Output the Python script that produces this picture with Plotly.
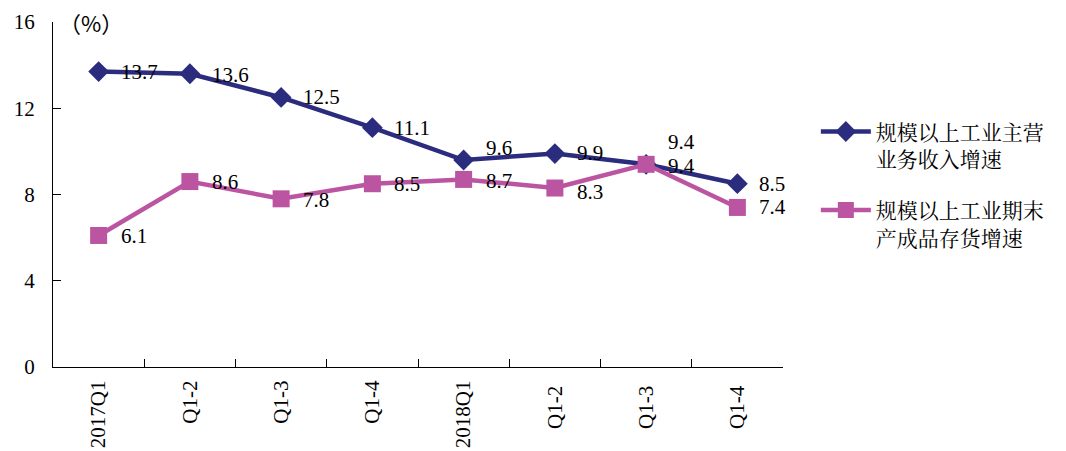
import plotly.graph_objects as go

categories = ["2017Q1", "Q1-2", "Q1-3", "Q1-4", "2018Q1", "Q1-2 ", "Q1-3 ", "Q1-4 "]
revenue_growth = [13.7, 13.6, 12.5, 11.1, 9.6, 9.9, 9.4, 8.5]
inventory_growth = [6.1, 8.6, 7.8, 8.5, 8.7, 8.3, 9.4, 7.4]
revenue_name = "规模以上工业主营<br>业务收入增速"
inventory_name = "规模以上工业期末<br>产成品存货增速"

# vertical nudges (px) for each point's value label
revenue_label_dy = [0, -1, 0, 0, 12, 1, 22, 0]
inventory_label_dy = [-1, 0, -1, 0, -2, -4, -2, 0]

NAVY = "#2b2c7e"
PINK = "#bc55a1"
FONT = "Liberation Serif, Noto Serif CJK SC, Noto Sans CJK SC, serif"

fig = go.Figure()
fig.add_trace(go.Scatter(
    x=categories, y=revenue_growth, name=revenue_name, legendgroup="rev",
    mode="lines+markers",
    line=dict(color=NAVY, width=4.5),
    marker=dict(symbol="diamond", size=16, color=NAVY),
))
fig.add_trace(go.Scatter(
    x=categories, y=inventory_growth, name=inventory_name, legendgroup="inv",
    mode="lines+markers",
    line=dict(color=PINK, width=4.5),
    marker=dict(symbol="square", size=17, color=PINK),
))

annotations = []
for series, shifts in ((revenue_growth, revenue_label_dy), (inventory_growth, inventory_label_dy)):
    for cat, val, dy in zip(categories, series, shifts):
        annotations.append(dict(
            x=cat, y=val, text=f"{val:.1f}", showarrow=False,
            xanchor="left", yanchor="middle", xshift=21, yshift=dy, borderpad=0,
            font=dict(family=FONT, size=21, color="black"),
        ))
annotations.append(dict(
    xref="paper", yref="paper", x=0.006, y=1.0, text="（%）", showarrow=False,
    xanchor="left", yanchor="middle",
    font=dict(family="Noto Sans CJK SC", size=22, color="black"),
))

fig.update_layout(
    width=1066, height=451,
    margin=dict(l=53, r=283, t=22, b=84, autoexpand=False),
    paper_bgcolor="white", plot_bgcolor="white",
    font=dict(family=FONT, size=20, color="black"),
    showlegend=True,
    legend=dict(
        x=1.045, y=0.741, xanchor="left", yanchor="top",
        font=dict(family=FONT, size=21, color="black"),
        valign="top", tracegroupgap=21, itemwidth=50,
    ),
    annotations=annotations,
)
fig.update_xaxes(
    type="category", range=[-0.5, 7.5], automargin=False,
    showline=True, linecolor="black", linewidth=1.3,
    ticks="inside", tickson="boundaries", ticklen=8, tickcolor="black",
    tickangle=-90, showgrid=False, zeroline=False, ticklabelstandoff=4,
    tickfont=dict(family=FONT, size=21, color="black"),
)
fig.update_yaxes(
    range=[0, 16], dtick=4, tick0=0, automargin=False,
    showline=True, linecolor="black", linewidth=1.3,
    ticks="inside", ticklen=8, tickcolor="black",
    showgrid=False, zeroline=False, ticklabelstandoff=13,
    tickfont=dict(family=FONT, size=21, color="black"),
)

fig.write_html("out.html")
